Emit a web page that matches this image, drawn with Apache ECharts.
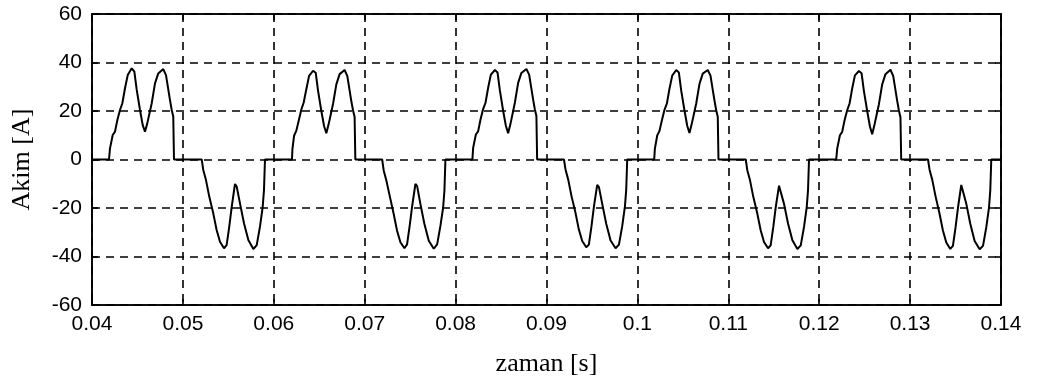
<!DOCTYPE html>
<html>
<head>
<meta charset="utf-8">
<script src="https://cdn.jsdelivr.net/npm/echarts@6/dist/echarts.min.js"></script>
<style>
  html, body { margin: 0; padding: 0; background: #fff; }
  #chart { width: 1039px; height: 389px; }
</style>
</head>
<body>
<div id="chart"></div>
<script>
// akim dalga sekli, her periyot [zaman (s), akim (A)]
var periyot1 = [
  [0.04, 0], [0.04187, 0], [0.04198, 4.6], [0.04228, 10.1], [0.04253, 11.5], [0.04279, 16.3], [0.04308, 20.4],
  [0.04334, 23.2], [0.04363, 29.4], [0.04393, 34.8], [0.04437, 37.6], [0.04466, 36.2], [0.04492, 28.7],
  [0.04528, 20.4], [0.04558, 14.2], [0.04583, 11.5], [0.04608, 14.9], [0.04657, 23.2], [0.04693, 31.4],
  [0.04729, 35.5], [0.04784, 37.3], [0.04814, 34.8], [0.04858, 24.5], [0.04877, 20.4], [0.04894, 17.7],
  [0.04902, 0], [0.05207, 0], [0.05224, -4.3], [0.05254, -8.5], [0.05290, -15.3], [0.05334, -22.2],
  [0.05371, -29.1], [0.05408, -33.9], [0.05452, -36.6], [0.05481, -35.3], [0.05510, -27.7], [0.05537, -19.5],
  [0.05573, -10.1], [0.05592, -11.2], [0.05628, -18.1], [0.05672, -26.3], [0.05720, -33.2], [0.05775, -36.9],
  [0.05812, -35.3], [0.05848, -27.7], [0.05878, -19.5], [0.05892, -12.6], [0.05903, 0]
];
var periyot2 = [
  [0.06200, 0], [0.06205, 4.3], [0.06223, 9.8], [0.06248, 11.9], [0.06274, 16.0], [0.06303, 20.6],
  [0.06329, 23.5], [0.06358, 29.0], [0.06388, 34.5], [0.06432, 36.6], [0.06461, 35.8], [0.06487, 28.3],
  [0.06523, 20.0], [0.06553, 13.8], [0.06578, 10.8], [0.06603, 14.5], [0.06652, 23.0], [0.06688, 31.0],
  [0.06724, 35.2], [0.06779, 36.9], [0.06809, 34.4], [0.06853, 24.0], [0.06872, 20.2], [0.06889, 17.5],
  [0.06897, 0], [0.07192, 0], [0.07209, -4.5], [0.07239, -8.8], [0.07275, -15.0], [0.07319, -22.5],
  [0.07356, -29.4], [0.07393, -34.1], [0.07437, -36.6], [0.07466, -35.0], [0.07495, -27.3], [0.07522, -19.2],
  [0.07558, -10.1], [0.07577, -11.0], [0.07613, -18.4], [0.07657, -26.6], [0.07705, -33.5], [0.07760, -36.8],
  [0.07797, -35.0], [0.07833, -27.4], [0.07863, -19.8], [0.07877, -12.9], [0.07888, 0]
];
var periyot3 = [
  [0.08185, 0], [0.08193, 4.8], [0.08223, 10.3], [0.08248, 11.6], [0.08274, 16.5], [0.08303, 20.8],
  [0.08329, 23.4], [0.08358, 29.6], [0.08388, 35.0], [0.08432, 36.9], [0.08461, 35.9], [0.08487, 28.5],
  [0.08523, 20.1], [0.08553, 13.9], [0.08578, 10.8], [0.08603, 14.6], [0.08652, 23.4], [0.08688, 31.6],
  [0.08724, 35.7], [0.08779, 37.3], [0.08809, 35.0], [0.08853, 24.7], [0.08872, 20.6], [0.08889, 17.9],
  [0.08897, 0], [0.09192, 0], [0.09209, -4.1], [0.09239, -8.3], [0.09275, -15.1], [0.09319, -22.0],
  [0.09356, -28.9], [0.09393, -33.6], [0.09437, -36.2], [0.09466, -35.1], [0.09495, -27.5], [0.09522, -19.3],
  [0.09558, -10.5], [0.09577, -11.4], [0.09613, -18.3], [0.09657, -26.5], [0.09705, -33.4], [0.09760, -36.6],
  [0.09797, -35.1], [0.09833, -27.5], [0.09863, -19.3], [0.09877, -12.4], [0.09888, 0]
];
var periyot4 = [
  [0.10185, 0], [0.10192, 4.4], [0.10218, 9.9], [0.10243, 11.8], [0.10269, 16.1], [0.10298, 20.5],
  [0.10324, 23.0], [0.10353, 29.2], [0.10383, 34.6], [0.10427, 36.9], [0.10456, 35.9], [0.10482, 28.4],
  [0.10518, 20.2], [0.10548, 13.9], [0.10573, 10.9], [0.10598, 14.7], [0.10647, 23.1], [0.10683, 31.2],
  [0.10719, 35.4], [0.10774, 36.9], [0.10804, 34.6], [0.10848, 24.3], [0.10867, 20.3], [0.10884, 17.6],
  [0.10892, 0], [0.11192, 0], [0.11209, -4.4], [0.11239, -8.6], [0.11275, -15.4], [0.11319, -22.3],
  [0.11356, -29.2], [0.11393, -34.0], [0.11437, -36.6], [0.11466, -35.4], [0.11495, -27.8], [0.11522, -19.6],
  [0.11558, -10.8], [0.11577, -11.6], [0.11613, -18.3], [0.11657, -26.4], [0.11705, -33.3], [0.11760, -36.9],
  [0.11797, -35.4], [0.11833, -27.8], [0.11863, -19.6], [0.11877, -12.7], [0.11888, 0]
];
var periyot5 = [
  [0.12187, 0], [0.12198, 4.5], [0.12228, 10.0], [0.12253, 11.4], [0.12279, 16.2], [0.12308, 20.3],
  [0.12334, 23.1], [0.12363, 29.3], [0.12393, 34.7], [0.12437, 36.5], [0.12466, 35.6], [0.12492, 28.2],
  [0.12528, 20.0], [0.12558, 13.6], [0.12583, 10.4], [0.12608, 14.3], [0.12657, 22.8], [0.12693, 31.0],
  [0.12729, 35.2], [0.12784, 37.0], [0.12814, 34.5], [0.12858, 24.2], [0.12877, 20.1], [0.12894, 17.4],
  [0.12902, 0], [0.13197, 0], [0.13214, -4.2], [0.13244, -8.4], [0.13280, -15.2], [0.13324, -22.4],
  [0.13361, -29.3], [0.13398, -34.2], [0.13442, -36.9], [0.13471, -35.6], [0.13500, -28.0], [0.13527, -19.8],
  [0.13563, -10.5], [0.13582, -11.3], [0.13618, -18.2], [0.13662, -26.5], [0.13710, -33.6], [0.13765, -37.0],
  [0.13802, -35.6], [0.13838, -28.0], [0.13868, -19.8], [0.13882, -12.8], [0.13893, 0], [0.14, 0]
];
var xTicks = [0.04, 0.05, 0.06, 0.07, 0.08, 0.09, 0.1, 0.11, 0.12, 0.13, 0.14];
var yTicks = [-60, -40, -20, 0, 20, 40, 60];

var akimData = periyot1.concat(periyot2, periyot3, periyot4, periyot5);

var tickFont = "'Liberation Sans', Arial, sans-serif";
var nameFont = "'Liberation Serif', 'Times New Roman', serif";
var gridLine = { show: true, lineStyle: { color: '#000', type: [8, 6], width: 1.6 } };

var myChart = echarts.init(document.getElementById('chart'), null, { renderer: 'canvas' });

var option = {
  backgroundColor: '#fff',
  animation: false,
  grid: {
    left: 92, right: 38, top: 14, bottom: 84,
    show: true, borderColor: '#000', borderWidth: 1.6, backgroundColor: 'transparent'
  },
  xAxis: [{
    type: 'value',
    min: xTicks[0],
    max: xTicks[xTicks.length - 1],
    interval: 0.01,
    position: 'bottom',
    name: 'zaman [s]',
    nameLocation: 'middle',
    nameGap: 46,
    nameTextStyle: { fontFamily: nameFont, fontSize: 26, color: '#000' },
    axisLine: { show: true, onZero: false, lineStyle: { color: '#000', width: 1.6 } },
    axisTick: { show: true, inside: true, length: 6, lineStyle: { color: '#000', width: 1.6 } },
    axisLabel: {
      margin: 9, color: '#000', fontFamily: tickFont, fontSize: 21,
      formatter: function (v) { return String(parseFloat(v.toFixed(2))); }
    },
    splitLine: gridLine
  }, {
    type: 'value',
    min: xTicks[0],
    max: xTicks[xTicks.length - 1],
    interval: 0.01,
    position: 'top',
    axisLine: { show: true, onZero: false, lineStyle: { color: '#000', width: 1.6 } },
    axisTick: { show: true, inside: true, length: 6, lineStyle: { color: '#000', width: 1.6 } },
    axisLabel: { show: false },
    splitLine: { show: false }
  }],
  yAxis: [{
    type: 'value',
    min: yTicks[0],
    max: yTicks[yTicks.length - 1],
    interval: 20,
    position: 'left',
    name: 'Akim [A]',
    nameLocation: 'middle',
    nameRotate: 90,
    nameGap: 57,
    nameTextStyle: { fontFamily: nameFont, fontSize: 26, color: '#000' },
    axisLine: { show: true, onZero: false, lineStyle: { color: '#000', width: 1.6 } },
    axisTick: { show: true, inside: true, length: 6, lineStyle: { color: '#000', width: 1.6 } },
    axisLabel: { margin: 10, color: '#000', fontFamily: tickFont, fontSize: 21 },
    splitLine: gridLine
  }, {
    type: 'value',
    min: yTicks[0],
    max: yTicks[yTicks.length - 1],
    interval: 20,
    position: 'right',
    axisLine: { show: true, onZero: false, lineStyle: { color: '#000', width: 1.6 } },
    axisTick: { show: true, inside: true, length: 6, lineStyle: { color: '#000', width: 1.6 } },
    axisLabel: { show: false },
    splitLine: { show: false }
  }],
  series: [{
    name: 'Akim',
    type: 'line',
    xAxisIndex: 0,
    yAxisIndex: 0,
    data: akimData,
    showSymbol: false,
    symbol: 'none',
    lineStyle: { color: '#000', width: 2 },
    z: 5
  }]
};

myChart.setOption(option);
window.addEventListener('resize', myChart.resize);
</script>
</body>
</html>
